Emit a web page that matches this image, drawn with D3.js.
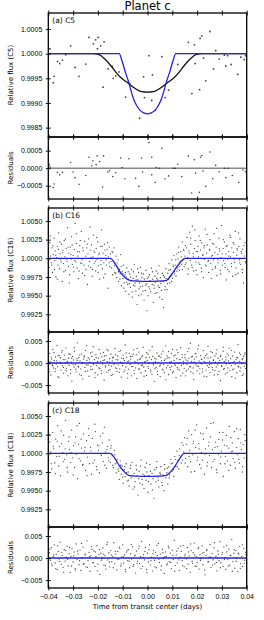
<!DOCTYPE html>
<html>
<head>
<meta charset="utf-8">
<script src="https://cdn.jsdelivr.net/npm/d3@7"></script>
<style>
  body { margin: 0; background: #fff; }
  svg { display: block; font-family: "DejaVu Sans", sans-serif; }
</style>
</head>
<body>
<svg id="chart" width="264" height="620"></svg>
<script>
// Time axis (days from transit centre)
const xTicks = [-0.04, -0.03, -0.02, -0.01, 0.00, 0.01, 0.02, 0.03, 0.04];

// ---- C5 (panel a): flux points, residuals, two models ----
const c5Flux = [
  [-0.0393, 1.00010], [-0.0376, 0.99954], [-0.0380, 0.99941], [-0.0363, 0.99984], [-0.0354, 0.99980],
  [-0.0343, 0.99987], [-0.0330, 0.99998], [-0.0310, 1.00016], [-0.0292, 0.99972], [-0.0276, 0.99954],
  [-0.0249, 0.99979], [-0.0236, 1.00033], [-0.0218, 1.00020], [-0.0209, 1.00028], [-0.0202, 1.00010],
  [-0.0199, 1.00033], [-0.0189, 1.00016], [-0.0175, 1.00024], [-0.0179, 0.99932], [-0.0159, 0.99969],
  [-0.0142, 0.99974], [-0.0138, 0.99950], [-0.0128, 0.99955], [-0.0115, 0.99963], [-0.0088, 0.99912],
  [-0.0072, 0.99939], [-0.0032, 0.99869], [-0.0016, 0.99953], [-0.0012, 0.99911], [0.0006, 0.99996],
  [0.0058, 0.99994], [0.0020, 0.99957], [0.0017, 0.99905], [0.0031, 0.99885], [0.0085, 0.99926],
  [0.0071, 0.99911], [0.0122, 0.99978], [0.0165, 1.00023], [0.0189, 1.00018], [0.0192, 0.99980],
  [0.0219, 1.00036], [0.0212, 1.00031], [0.0252, 1.00045], [0.0226, 0.99991], [0.0235, 0.99945],
  [0.0210, 0.99927], [0.0179, 0.99919], [0.0275, 1.00006], [0.0289, 0.99989], [0.0266, 0.99969],
  [0.0310, 0.99997], [0.0323, 0.99996], [0.0316, 0.99975], [0.0337, 0.99978], [0.0364, 0.99958],
  [0.0376, 0.99993], [0.0390, 0.99988], [0.0395, 0.99996]
];
const c5Resid = [
  [-0.0396, 0.00010], [-0.0393, 0.00003], [-0.0380, -0.00055], [-0.0376, -0.00045], [-0.0363, -0.00012],
  [-0.0354, -0.00019], [-0.0343, -0.00012], [-0.0310, 0.00016], [-0.0300, -0.00011], [-0.0292, -0.00027],
  [-0.0276, -0.00046], [-0.0249, -0.00021], [-0.0236, 0.00031], [-0.0225, 0.00007], [-0.0220, 0.00021],
  [-0.0207, 0.00010], [-0.0203, 0.00035], [-0.0193, 0.00019], [-0.0177, 0.00035], [-0.0181, -0.00054],
  [-0.0160, -0.00011], [-0.0153, -0.00007], [-0.0140, -0.00024], [-0.0128, -0.00013], [-0.0108, 0.00029],
  [-0.0102, 0.00002], [-0.0091, -0.00030], [-0.0075, 0.00027], [-0.0048, -0.00029], [-0.0035, -0.00052],
  [-0.0024, 0.00029], [-0.0020, -0.00011], [0.0006, 0.00073], [0.0017, 0.00031], [0.0017, -0.00019],
  [0.0031, -0.00041], [0.0035, 0.00002], [0.0048, 0.00000], [0.0058, 0.00057], [0.0071, -0.00030],
  [0.0085, -0.00022], [0.0105, 0.00000], [0.0112, 0.00000], [0.0122, 0.00011], [0.0138, -0.00024],
  [0.0165, 0.00035], [0.0178, -0.00071], [0.0189, 0.00024], [0.0194, -0.00014], [0.0209, -0.00069],
  [0.0214, 0.00031], [0.0219, 0.00036], [0.0224, -0.00008], [0.0235, -0.00052], [0.0252, 0.00046],
  [0.0263, -0.00030], [0.0275, 0.00008], [0.0289, -0.00010], [0.0316, -0.00027], [0.0310, 0.00000],
  [0.0326, 0.00000], [0.0342, -0.00021], [0.0368, -0.00041], [0.0385, -0.00005], [0.0395, -0.00010]
];
const c5ModelBlack = [
  [-0.040, 1.00000], [-0.022, 1.00000], [-0.0195, 0.99998], [-0.0172, 0.99989], [-0.015, 0.99977],
  [-0.0127, 0.99962], [-0.0105, 0.99950], [-0.008, 0.99941], [-0.0051, 0.99930], [-0.0024, 0.99923],
  [0.000, 0.99922], [0.0024, 0.99923], [0.0051, 0.99930], [0.008, 0.99941], [0.0105, 0.99950],
  [0.0127, 0.99962], [0.015, 0.99977], [0.0172, 0.99989], [0.0195, 0.99998], [0.022, 1.00000], [0.040, 1.00000]
];
const c5ModelBlue = [
  [-0.040, 1.00000], [-0.0114, 1.00000], [-0.0102, 0.99984], [-0.0089, 0.99962], [-0.0077, 0.99944],
  [-0.0066, 0.99924], [-0.0056, 0.99908], [-0.0045, 0.99896], [-0.0030, 0.99885], [-0.0015, 0.99880],
  [0.000, 0.99878], [0.0015, 0.99880], [0.0030, 0.99885], [0.0045, 0.99896], [0.0056, 0.99908],
  [0.0066, 0.99924], [0.0077, 0.99944], [0.0089, 0.99962], [0.0102, 0.99984], [0.0114, 1.00000], [0.040, 1.00000]
];

// ---- C16 (panel b): [time 1e-4 d, flux-1 in 1e-4] ----
const c16Flux = [
  [-399,8],[-396,-12],[-394,21],[-391,3],[-388,-6],[-385,14],[-383,-19],[-380,5],[-377,27],[-374,-3],[-372,10],[-369,-25],[-366,1],[-363,16],[-361,-9],[-358,34],[-355,-14],[-352,6],[-350,-2],[-347,19],[-344,-31],[-341,11],[-339,-7],[-336,24],[-333,2],[-330,-16],[-328,13],[-325,-4],[-322,41],[-319,-11],[-317,7],[-314,-22],[-311,15],[-308,-1],[-306,29],[-303,-8],[-300,4],[-297,-18],[-295,12],[-292,47],[-289,-5],[-286,20],[-284,-13],[-281,3],[-278,-27],[-275,9],[-273,17],[-270,-6],[-267,36],[-264,-2],[-262,-20],[-259,10],[-256,-9],[-253,23],[-251,0],[-248,-15],[-245,14],[-242,-35],[-240,6],[-237,26],[-234,-4],[-231,11],[-229,-12],[-226,18],[-223,-24],[-220,2],[-218,31],[-215,-7],[-212,8],[-209,-17],[-207,13],[-204,-1],[-201,22],[-198,-10],[-196,5],[-193,-28],[-190,16],[-187,-3],[-185,38],[-182,-14],[-179,7],[-176,-6],[-174,19],[-171,-21],[-168,4],[-165,-9],[-163,12],[-160,-40],[-157,2],[-154,15],[-152,-11],
  [-149,6],[-146,-13],[-143,9],[-141,-22],[-138,-4],[-135,14],[-132,-19],[-130,-8],[-127,3],[-124,-26],[-121,-12],[-119,-2],[-116,-31],[-113,-15],[-110,-20],[-108,5],[-105,-37],[-102,-18],[-99,-27],[-97,-9],[-94,-33],[-91,-22],[-88,-44],[-86,-25],[-83,-13],[-80,-35],[-77,-28],[-75,-48],
  [-72,-21],[-69,-39],[-67,-30],[-64,-15],[-61,-52],[-58,-27],[-56,-36],[-53,-8],[-50,-33],[-47,-44],[-45,-24],[-42,-62],[-39,-29],[-36,-19],[-34,-41],[-31,-33],[-28,-12],[-25,-48],[-23,-26],[-20,-37],[-17,-21],[-14,-56],[-12,-31],[-9,-43],[-6,-16],[-3,-34],[-1,-27],[2,-50],[5,-38],[8,-22],[10,-30],[13,-45],[16,-13],[19,-35],[21,-28],[24,-59],[27,-40],[30,-24],[32,-32],[35,-17],[38,-46],[41,-29],[43,-37],[46,-10],[49,-52],[52,-26],[54,-34],[57,-43],[60,-20],[63,-31],[65,-66],[68,-25],[71,-38],[74,-14],[76,-30],
  [79,-42],[82,-20],[85,-28],[87,-7],[90,-33],[93,-15],[96,-23],[98,-2],[101,-27],[104,-11],[107,4],[109,-18],[112,-9],[115,-24],[118,6],[120,-13],[123,-1],[126,15],[129,-16],[131,-4],[134,9],[137,-8],[140,22],[142,-3],[145,12],[148,-11],[151,3],
  [153,17],[156,-6],[159,28],[162,1],[164,-14],[167,10],[170,35],[173,-3],[175,19],[178,-9],[181,43],[184,6],[186,-17],[189,13],[192,24],[195,-5],[197,9],[200,-22],[203,16],[206,2],[208,30],[211,-8],[214,11],[217,-13],[219,21],[222,4],[225,-26],[228,14],[230,-1],[233,39],[236,-10],[239,7],[241,18],[244,-4],[247,-19],[250,12],[252,25],[255,-7],[258,3],[261,-15],[263,20],[266,-2],[269,33],[272,8],[274,-11],[277,15],[280,-23],[283,5],[285,-6],[288,27],[291,10],[294,-16],[296,1],[299,44],[302,-9],[305,13],[307,-3],[310,22],[313,-12],[316,6],[318,-29],[321,17],[324,-1],[327,9],[329,-18],[332,31],[335,2],[338,-7],[340,14],[343,-24],[346,8],[349,19],[351,-5],[354,36],[357,-13],[360,4],[362,11],[365,-20],[368,16],[371,-2],[373,26],[376,-8],[379,7],[382,-15],[384,12],[387,-33],[390,3],[393,21],[395,-6],[398,9]
];
const c16FluxMore = [
  [-397,-2],[-392,30],[-386,-9],[-381,17],[-375,-15],[-370,4],[-364,-28],[-359,12],[-353,22],[-348,-5],[-342,8],[-337,-18],[-331,26],[-326,-1],[-320,15],[-315,-33],[-309,5],[-304,18],[-298,-12],[-293,-3],[-287,33],[-282,9],[-276,-17],[-271,24],[-265,-7],[-260,14],[-254,-23],[-249,3],[-243,19],[-238,-10],[-232,42],[-227,1],[-221,-15],[-216,10],[-210,-4],[-205,28],[-199,-19],[-194,7],[-188,-8],[-183,16],[-177,-26],[-172,11],[-166,-2],[-161,21],[-155,-6],
  [-147,-4],[-140,8],[-134,-10],[-128,-20],[-123,-6],[-117,-18],[-111,-28],[-106,-11],[-100,-21],[-95,-40],[-89,-19],[-84,-32],[-78,-18],
  [-73,-34],[-68,-25],[-62,-45],[-57,-18],[-51,-37],[-46,-29],[-40,-14],[-35,-50],[-29,-38],[-24,-20],[-18,-44],[-13,-28],[-7,-36],[-2,-70],[4,-25],[9,-41],[15,-31],[20,-18],[26,-36],[31,-47],[37,-27],[42,-20],[48,-39],[53,-31],[59,-55],[64,-23],[70,-42],[75,-27],
  [81,-34],[86,-16],[92,-24],[97,-31],[103,-9],[108,-21],[114,-2],[119,-17],[125,8],[130,-11],[136,2],[141,-15],[147,10],
  [152,-8],[158,14],[163,-21],[169,7],[174,27],[180,-12],[185,2],[191,38],[196,-16],[202,9],[207,-6],[213,24],[218,-18],[224,5],[229,17],[235,-9],[240,32],[246,-3],[251,11],[257,-27],[262,4],[268,19],[273,-13],[279,40],[284,-2],[290,13],[295,-21],[301,6],[306,25],[312,-7],[317,16],[323,-15],[328,3],[334,28],[339,-11],[345,21],[350,-1],[356,-22],[361,13],[367,34],[372,-6],[378,9],[383,-19],[389,17],[394,-4],[399,30]
];
const c16Resid = [
  [-398,-14],[-395,22],[-393,3],[-390,-27],[-387,9],[-384,-4],[-382,31],[-379,-11],[-376,6],[-373,-19],[-371,14],[-368,-2],[-365,40],[-362,-8],[-360,17],[-357,-33],[-354,1],[-351,12],[-349,-16],[-346,25],[-343,-6],[-340,8],[-338,-23],[-335,18],[-332,-1],[-329,34],[-327,-12],[-324,4],[-321,-29],[-318,11],[-316,-5],[-313,20],[-310,-15],[-307,2],[-305,-41],[-302,15],[-299,7],[-296,-9],[-294,27],[-291,-3],[-288,-20],[-285,10],[-283,46],[-280,-7],[-277,13],[-274,-25],[-272,5],[-269,-13],[-266,21],[-263,-1],[-261,-36],[-258,9],[-255,16],[-252,-10],[-250,29],[-247,-4],[-244,6],[-241,-18],[-239,12],[-236,-30],[-233,2],[-230,23],[-228,-8],[-225,15],[-222,-14],[-219,37],[-217,-3],[-214,8],[-211,-22],[-208,19],[-206,-6],[-203,1],[-200,-27],[-197,11],[-195,31],[-192,-12],[-189,4],[-186,-17],[-184,14],[-181,-2],[-178,24],[-175,-39],[-173,7],[-170,-9],[-167,17],[-164,-21],[-162,3],[-159,28],[-156,-5],[-153,10],[-151,-15],
  [-148,20],[-145,-7],[-142,5],[-140,-26],[-137,13],[-134,-1],[-131,33],[-129,-11],[-126,8],[-123,-19],[-120,16],[-118,-4],[-115,26],[-112,-13],[-109,2],[-106,-32],[-104,11],[-101,-6],[-98,18],[-95,-20],[-93,6],[-90,41],[-87,-9],[-84,13],[-81,-24],[-79,3],[-76,-14],[-73,22],[-70,-3],[-68,9],[-65,-29],[-62,15],[-59,-8],[-56,30],[-54,-17],[-51,4],[-48,-11],[-45,19],[-43,-35],[-40,7],[-37,-2],[-34,25],[-31,-13],[-29,10],[-26,-22],[-23,14],[-20,-5],[-17,36],[-15,-9],[-12,2],[-9,-18],[-6,12],[-4,-28],[-1,6],[2,20],[5,-12],[7,-1],[10,29],[13,-16],[16,8],[18,-25],[21,15],[24,-4],[27,-42],[29,11],[32,3],[35,-10],[38,23],[40,-19],[43,1],[46,17],[49,-7],[51,-31],[54,13],[57,5],[60,-14],[62,27],[65,-3],[68,-21],[71,9],[74,39],[76,-11],[79,16],[82,-6],[85,-26],[87,12],[90,2],[93,-15],[96,22],[98,-8],[101,31],[104,-19],[107,6],[109,-2],[112,18],[115,-33],[118,10],[120,-10],[123,24],[126,-1],[129,-16],[131,8],[134,35],[137,-5],[140,13],[142,-23],[145,4],[148,-12],
  [151,19],[153,-29],[156,7],[159,-3],[162,26],[164,-14],[167,11],[170,-8],[173,45],[175,-20],[178,3],[181,15],[184,-11],[186,-37],[189,9],[192,21],[195,-4],[197,14],[200,-18],[203,32],[206,-7],[208,5],[211,-24],[214,17],[217,-2],[219,8],[222,-13],[225,28],[228,-30],[230,12],[233,1],[236,-16],[239,20],[241,-6],[244,38],[247,-10],[250,4],[252,-21],[255,13],[258,-1],[261,24],[263,-15],[266,7],[269,-27],[272,16],[274,2],[277,-9],[280,30],[283,-4],[285,11],[288,-19],[291,6],[294,-40],[296,18],[299,-8],[302,9],[305,27],[307,-14],[310,3],[313,-25],[316,14],[318,-2],[321,21],[324,-11],[327,5],[329,34],[332,-17],[335,10],[338,-6],[340,-31],[343,16],[346,1],[349,-13],[351,25],[354,-3],[357,8],[360,-22],[362,12],[365,42],[368,-9],[371,4],[373,-18],[376,19],[379,-1],[382,-28],[384,10],[387,15],[390,-7],[393,23],[395,-12],[398,5]
];
const c16ResidMore = [
  [-399,3],[-394,-20],[-388,13],[-383,-6],[-377,24],[-372,-13],[-366,5],[-361,-31],[-355,17],[-350,-1],[-344,29],[-339,-10],[-333,8],[-328,-17],[-322,2],[-317,21],[-311,-24],[-306,11],[-300,-4],[-295,35],[-289,-14],[-284,6],[-278,-9],[-273,18],[-267,-28],[-262,1],[-256,14],[-251,-19],[-245,39],[-240,-5],[-234,9],[-229,-15],[-223,25],[-218,-2],[-212,-33],[-207,12],[-201,4],[-196,-11],[-190,22],[-185,-24],[-179,6],[-174,16],[-168,-6],[-163,31],[-157,-17],[-152,2],[-146,-28],[-141,12],[-135,-3],[-130,19],[-124,-12],[-119,7],[-113,-21],[-108,28],[-102,-1],[-97,10],[-91,-16],[-86,23],[-80,-34],[-75,5],[-69,15],[-64,-8],[-58,20],[-53,-24],[-47,1],[-42,33],[-36,-14],[-31,8],[-25,-5],[-20,17],[-14,-30],[-9,3],[-3,24],[2,-8],[8,13],[13,-20],[19,37],[24,-1],[30,-13],[35,9],[41,-26],[46,15],[52,-4],[57,21],[63,-16],[68,6],[74,-38],[79,11],[85,26],[90,-10],[96,3],[101,-22],[107,16],[112,-5],[118,30],[123,-14],[129,8],[134,-29],[140,19],[145,-2],[151,12],[156,-18],[162,5],[167,33],[173,-9],[178,14],[184,-23],[189,2],[195,22],[200,-7],[206,40],[211,-13],[217,9],[222,-20],[228,4],[233,17],[239,-31],[244,11],[250,-3],[255,26],[261,-10],[266,6],[272,-17],[277,21],[283,-26],[288,1],[294,15],[299,-6],[305,36],[310,-12],[316,7],[321,-22],[327,18],[332,-1],[338,29],[343,-15],[349,4],[354,-34],[360,13],[365,-7],[371,23],[376,-11],[382,8],[387,-25],[393,19],[398,-2]
];
const c16Model = [
  [-0.040, 1.00000], [-0.0149, 1.00000], [-0.0131, 0.99929], [-0.0111, 0.99819], [-0.0091, 0.99744],
  [-0.0071, 0.99706], [-0.0040, 0.99694], [0.000, 0.99690], [0.0040, 0.99694], [0.0077, 0.99706],
  [0.0092, 0.99760], [0.0111, 0.99853], [0.0131, 0.99940], [0.0151, 1.00000], [0.040, 1.00000]
];

// ---- C18 (panel c): [time 1e-4 d, flux-1 in 1e-4] ----
const c18Flux = [
  [-398,-9],[-394,15],[-390,2],[-386,-21],[-382,28],[-378,6],[-374,-13],[-370,19],[-366,-4],[-362,37],[-358,-17],[-354,9],[-350,-30],[-346,13],[-342,1],[-338,24],[-334,-8],[-330,44],[-326,-2],[-322,-25],[-318,16],[-314,5],[-310,-12],[-306,31],[-302,-6],[-298,10],[-294,-19],[-290,22],[-286,-1],[-282,-34],[-278,12],[-274,40],[-270,-10],[-266,7],[-262,-16],[-258,26],[-254,3],[-250,-23],[-246,17],[-242,-5],[-238,33],[-234,-14],[-230,8],[-226,-28],[-222,20],[-218,0],[-214,-9],[-210,29],[-206,-18],[-202,11],[-198,4],[-194,-26],[-190,23],[-186,-3],[-182,14],[-178,-11],[-174,35],[-170,2],[-166,-20],[-162,9],[-158,-6],[-154,18],
  [-150,-12],[-146,10],[-142,-3],[-138,-19],[-134,4],[-130,-14],[-126,-26],[-122,-8],[-118,-21],[-114,-35],[-110,-10],[-106,-28],[-102,-17],[-98,-40],[-94,-22],[-90,-31],[-86,-14],[-82,-37],[-78,-25],
  [-74,-44],[-70,-20],[-66,-33],[-62,-12],[-58,-48],[-54,-27],[-50,-38],[-46,-16],[-42,-31],[-38,-56],[-34,-24],[-30,-40],[-26,-9],[-22,-35],[-18,-28],[-14,-47],[-10,-19],[-6,-36],[-2,-25],[2,-52],[6,-30],[10,-15],[14,-41],[18,-27],[22,-34],[26,-60],[30,-22],[34,-38],[38,-11],[42,-32],[46,-45],[50,-26],[54,-18],[58,-39],[62,-29],[66,-50],[70,-21],[74,-33],
  [78,-26],[82,-41],[86,-18],[90,-29],[94,-8],[98,-24],[102,-13],[106,-31],[110,-4],[114,-17],[118,3],[122,-10],[126,-21],[130,6],[134,-5],[138,14],[142,-9],[146,2],
  [150,21],[154,-7],[158,12],[162,-18],[166,30],[170,4],[174,-11],[178,25],[182,-2],[186,16],[190,-24],[194,8],[198,38],[202,-5],[206,13],[210,-15],[214,27],[218,1],[222,-9],[226,19],[230,-28],[234,6],[238,34],[242,-12],[246,10],[250,-3],[254,22],[258,-19],[262,5],[266,41],[270,-8],[274,15],[278,-22],[282,9],[286,-1],[290,28],[294,-14],[298,3],[302,18],[306,-31],[310,11],[314,-4],[318,24],[322,-10],[326,7],[330,36],[334,-16],[338,2],[342,14],[346,-7],[350,29],[354,-20],[358,8],[362,-2],[366,20],[370,-13],[374,32],[378,5],[382,-25],[386,12],[390,-6],[394,17],[398,-11]
];
const c18FluxMore = [
  [-396,25],[-388,-14],[-380,9],[-372,-27],[-364,16],[-356,-4],[-348,30],[-340,-11],[-332,6],[-324,-19],[-316,22],[-308,1],[-300,-29],[-292,14],[-284,37],[-276,-7],[-268,19],[-260,-15],[-252,8],[-244,-30],[-236,24],[-228,3],[-220,-13],[-212,39],[-204,-22],[-196,10],[-188,-1],[-180,27],[-172,-16],[-164,5],[-156,-10],
  [-148,7],[-140,-16],[-132,-2],[-124,-12],[-116,-24],[-108,-16],[-100,-32],[-92,-18],[-84,-26],
  [-76,-36],[-68,-16],[-60,-30],[-52,-45],[-44,-22],[-36,-34],[-28,-17],[-20,-42],[-12,-30],[-4,-13],[4,-38],[12,-24],[20,-49],[28,-31],[36,-19],[44,-36],[52,-28],[60,-43],[68,-15],
  [80,-20],[88,-33],[96,-14],[104,-22],[112,-8],[120,-18],[128,-3],[136,-13],[144,11],
  [152,-13],[160,20],[168,-4],[176,-25],[184,13],[192,31],[200,-9],[208,6],[216,-20],[224,26],[232,-1],[240,-17],[248,15],[256,40],[264,-11],[272,8],[280,-26],[288,19],[296,-5],[304,28],[312,-14],[320,10],[328,-23],[336,21],[344,3],[352,-12],[360,33],[368,-8],[376,14],[384,-18],[392,25],[399,2]
];
const c18Resid = [
  [-399,-40],[-396,12],[-392,-5],[-388,24],[-384,-17],[-380,3],[-376,30],[-372,-11],[-368,8],[-364,-26],[-360,15],[-356,-2],[-352,36],[-348,-14],[-344,6],[-340,-21],[-336,19],[-332,-7],[-328,2],[-324,27],[-320,-18],[-316,10],[-312,-33],[-308,4],[-304,21],[-300,-9],[-296,14],[-292,-24],[-288,32],[-284,-3],[-280,9],[-276,-15],[-272,18],[-268,-28],[-264,1],[-260,25],[-256,-12],[-252,7],[-248,-20],[-244,39],[-240,-6],[-236,13],[-232,-30],[-228,5],[-224,20],[-220,-10],[-216,16],[-212,-19],[-208,3],[-204,28],[-200,-14],[-196,8],[-192,-37],[-188,11],[-184,-1],[-180,23],[-176,-16],[-172,6],[-168,-25],[-164,31],[-160,-4],[-156,12],[-152,-20],[-148,17],[-144,-8],[-140,4],[-136,35],[-132,-13],[-128,9],[-124,-27],[-120,15],[-116,-3],[-112,22],[-108,-18],[-104,2],[-100,30],[-96,-11],[-92,7],[-88,-31],[-84,14],[-80,-6],[-76,19],[-72,-22],[-68,10],[-64,-2],[-60,26],[-56,-15],[-52,5],[-48,-34],[-44,16],[-40,-7],[-36,21],[-32,-12],[-28,3],[-24,38],[-20,-19],[-16,8],[-12,-4],[-8,24],[-4,-26],[0,11],[4,-9],[8,30],[12,-16],[16,2],[20,-29],[24,17],[28,-5],[32,13],[36,-22],[40,6],[44,33],[48,-10],[52,9],[56,-18],[60,20],[64,-1],[68,-35],[72,14],[76,4],[80,-13],[84,27],[88,-8],[92,11],[96,-24],[100,18],[104,-3],[108,40],[112,-17],[116,7],[120,-11],[124,22],[128,-28],[132,2],[136,15],[140,-6],[144,29],[148,-20],[152,9],[156,-2],[160,24],[164,-14],[168,5],[172,-32],[176,17],[180,-7],[184,12],[188,34],[192,-18],[196,3],[200,-10],[204,21],[208,-25],[212,8],[216,-1],[220,28],[224,-15],[228,13],[232,-38],[236,6],[240,19],[244,-9],[248,2],[252,31],[256,-21],[260,10],[264,-4],[268,23],[272,-13],[276,4],[280,-29],[284,16],[288,-6],[292,37],[296,-11],[300,8],[304,-19],[308,25],[312,1],[316,-26],[320,14],[324,-3],[328,20],[332,-16],[336,6],[340,42],[344,-8],[348,11],[352,-23],[356,17],[360,-1],[364,-31],[368,9],[372,26],[376,-12],[380,4],[384,-19],[388,22],[392,-5],[396,13],[399,-27]
];
const c18ResidMore = [
  [-394,20],[-386,-13],[-378,7],[-370,-24],[-362,28],[-354,-8],[-346,13],[-338,-32],[-330,17],[-322,-3],[-314,24],[-306,-18],[-298,5],[-290,-27],[-282,16],[-274,-6],[-266,33],[-258,-14],[-250,9],[-242,-21],[-234,3],[-226,26],[-218,-11],[-210,14],[-202,-29],[-194,19],[-186,-5],[-178,9],[-170,-17],[-162,36],[-154,-9],[-146,7],[-138,-22],[-130,15],[-122,-2],[-114,25],[-106,-13],[-98,4],[-90,-26],[-82,18],[-74,-7],[-66,31],[-58,-19],[-50,6],[-42,-12],[-34,27],[-26,-24],[-18,2],[-10,15],[-2,-33],[6,19],[14,-6],[22,10],[30,-20],[38,29],[46,-3],[54,-27],[62,12],[70,3],[78,-15],[86,23],[94,-10],[102,6],[110,-30],[118,16],[126,-4],[134,27],[142,-17],[150,5],[158,-24],[166,14],[174,32],[182,-12],[190,7],[198,-19],[206,24],[214,-5],[222,11],[230,-27],[238,17],[246,-8],[254,2],[262,-16],[270,35],[278,-10],[286,9],[294,-22],[302,13],[310,-3],[318,28],[326,-18],[334,6],[342,-30],[350,19],[358,-7],[366,11],[374,-24],[382,30],[390,-12],[397,8]
];
const c18Model = [
  [-0.040, 1.00000], [-0.0151, 1.00000], [-0.0131, 0.99930], [-0.0111, 0.99820], [-0.0091, 0.99745],
  [-0.0076, 0.99705], [-0.0040, 0.99694], [0.000, 0.99690], [0.0040, 0.99694], [0.0076, 0.99705],
  [0.0091, 0.99745], [0.0111, 0.99830], [0.0130, 0.99930], [0.0148, 1.00000], [0.040, 1.00000]
];

// Tick values for each axis
const c5Ticks = [0.9985, 0.9990, 0.9995, 1.0000, 1.0005];
const c5ResTicks = [-0.0005, 0.0000, 0.0005];
const kFluxTicks = [0.9925, 0.9950, 0.9975, 1.0000, 1.0025, 1.0050];
const kResTicks = [-0.005, 0.000, 0.005];

// convert the compact 1e-4 units to days / flux
const fromK = (arr, base) => arr.map(d => [d[0] / 1e4, base + d[1] / 1e4]);

const svg = d3.select("#chart");
const left = 48.3, right = 246.7;
const x = d3.scaleLinear().domain([-0.04, 0.04]).range([left, right]);

const blue = "#1f1ff0";

// one entry per drawn axes box
const panels = [
  { top: 13, h: 124, dom: [0.99831, 1.000825], ticks: c5Ticks, fmt: ".4f", label: "Relative flux (C5)", tag: "(a) C5",
    pts: c5Flux, r: 0.9, lines: [{ d: c5ModelBlack, c: "#111" }, { d: c5ModelBlue, c: blue }] },
  { top: 137, h: 62, dom: [-0.00088, 0.00089], ticks: c5ResTicks, fmt: ".4f", label: "Residuals",
    pts: c5Resid, r: 0.8, zero: "#888" },
  { top: 208, h: 124, dom: [0.99013, 1.00674], ticks: kFluxTicks, fmt: ".4f", label: "Relative flux (C16)", tag: "(b) C16",
    pts: fromK(c16Flux.concat(c16FluxMore), 1), r: 0.65, lines: [{ d: c16Model, c: blue }] },
  { top: 332, h: 61, dom: [-0.0068, 0.00705], ticks: kResTicks, fmt: ".3f", label: "Residuals",
    pts: fromK(c16Resid.concat(c16ResidMore), 0), r: 0.65, zero: blue },
  { top: 403, h: 124, dom: [0.99013, 1.00674], ticks: kFluxTicks, fmt: ".4f", label: "Relative flux (C18)", tag: "(c) C18",
    pts: fromK(c18Flux.concat(c18FluxMore), 1), r: 0.65, lines: [{ d: c18Model, c: blue }] },
  { top: 527, h: 61, dom: [-0.0068, 0.00705], ticks: kResTicks, fmt: ".3f", label: "Residuals",
    pts: fromK(c18Resid.concat(c18ResidMore), 0), r: 0.65, zero: blue, bottomLabels: true }
];

// title
svg.append("text")
  .attr("x", (left + right) / 2).attr("y", 10)
  .attr("text-anchor", "middle")
  .style("font-size", "11.5px")
  .text("Planet c");

panels.forEach((p, i) => {
  const y = d3.scaleLinear().domain(p.dom).range([p.top + p.h, p.top]);
  const g = svg.append("g");

  const clipId = "clip" + i;
  g.append("clipPath").attr("id", clipId)
    .append("rect").attr("x", left).attr("y", p.top).attr("width", right - left).attr("height", p.h);

  const plot = g.append("g").attr("clip-path", `url(#${clipId})`);

  // zero line for residual panels
  if (p.zero) {
    plot.append("line")
      .attr("x1", left).attr("x2", right)
      .attr("y1", y(0)).attr("y2", y(0))
      .attr("stroke", p.zero).attr("stroke-width", 1.4);
  }

  // data points
  plot.selectAll("circle")
    .data(p.pts)
    .enter().append("circle")
    .attr("cx", d => x(d[0]))
    .attr("cy", d => y(d[1]))
    .attr("r", p.r)
    .attr("fill", "#222")
    .attr("fill-opacity", 0.85);

  // model curves
  if (p.lines) {
    const line = d3.line().x(d => x(d[0])).y(d => y(d[1])).curve(d3.curveMonotoneX);
    p.lines.forEach(l => {
      plot.append("path")
        .attr("d", line(l.d))
        .attr("fill", "none")
        .attr("stroke", l.c)
        .attr("stroke-width", 1.3);
    });
  }

  // y axis
  const yAxis = g.append("g")
    .attr("transform", `translate(${left},0)`)
    .call(d3.axisLeft(y).tickValues(p.ticks).tickFormat(d3.format(p.fmt)).tickSize(2.5).tickPadding(3.5));
  yAxis.select(".domain").remove();
  yAxis.selectAll(".tick line").attr("x1", 2.5).attr("stroke-width", 0.9);
  yAxis.selectAll("text").style("font-size", "7px").attr("fill", "#000");

  // x ticks at top (inside + outside)
  const topAxis = g.append("g")
    .attr("transform", `translate(0,${p.top})`)
    .call(d3.axisTop(x).tickValues(xTicks).tickFormat("").tickSize(2.5));
  topAxis.select(".domain").remove();
  topAxis.selectAll(".tick line").attr("y1", 2.5).attr("stroke-width", 0.9);

  // x ticks at bottom
  const botAxis = g.append("g")
    .attr("transform", `translate(0,${p.top + p.h})`)
    .call(d3.axisBottom(x).tickValues(xTicks)
      .tickFormat(p.bottomLabels ? d3.format(".2f") : "")
      .tickSize(2.5).tickPadding(3.5));
  botAxis.select(".domain").remove();
  botAxis.selectAll(".tick line").attr("y1", -2.5).attr("stroke-width", 0.9);
  botAxis.selectAll("text").style("font-size", "7px").attr("fill", "#000");

  // frame
  g.append("rect")
    .attr("x", left).attr("y", p.top)
    .attr("width", right - left).attr("height", p.h)
    .attr("fill", "none").attr("stroke", "#000").attr("stroke-width", 1.3);

  // y label
  g.append("text")
    .attr("transform", `translate(13,${p.top + p.h / 2}) rotate(-90)`)
    .attr("text-anchor", "middle")
    .style("font-size", "7px")
    .text(p.label);

  // panel tag
  if (p.tag) {
    g.append("text")
      .attr("x", left + 4).attr("y", p.top + 10)
      .style("font-size", "7.5px")
      .text(p.tag);
  }
});

// x label
svg.append("text")
  .attr("x", (left + right) / 2).attr("y", 609)
  .attr("text-anchor", "middle")
  .style("font-size", "7px")
  .text("Time from transit center (days)");
</script>
</body>
</html>
